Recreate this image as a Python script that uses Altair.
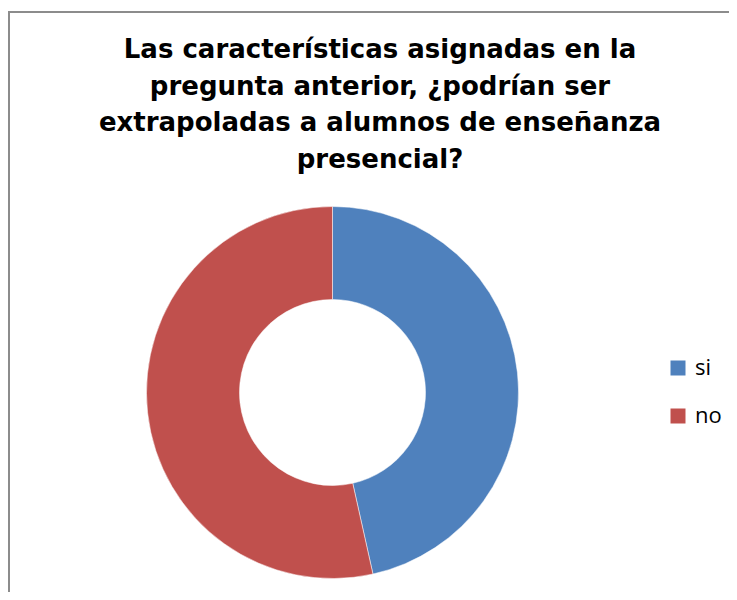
import altair as alt
import pandas as pd

categories = ["si", "no"]
values = [20, 23]
colors = ["#4F81BD", "#C0504D"]
title_lines = [
    "Las características asignadas en la",
    "pregunta anterior, ¿podrían ser",
    "extrapoladas a alumnos de enseñanza",
    "presencial?",
]

df = pd.DataFrame({"respuesta": categories, "valor": values, "orden": list(range(len(categories)))})

frame = alt.Chart(alt.Data(values=[{}]))
top_line = frame.mark_rule(stroke="#8c8c8c", strokeWidth=2).encode(
    x=alt.value(0), x2=alt.value(721), y=alt.value(4)
)
left_line = frame.mark_rule(stroke="#8c8c8c", strokeWidth=2).encode(
    x=alt.value(1), y=alt.value(3), y2=alt.value(584)
)

arcs = alt.Chart(df).mark_arc(
    outerRadius=186, innerRadius=93, stroke="white", strokeWidth=0.5
).encode(
    theta=alt.Theta("valor:Q", stack=True),
    order=alt.Order("orden:O"),
    color=alt.Color(
        "respuesta:N",
        scale=alt.Scale(domain=categories, range=colors),
        legend=alt.Legend(
            orient="none", legendX=659, legendY=349, title=None,
            symbolType="square", symbolSize=225, symbolStrokeWidth=0,
            labelFontSize=22, labelFont="Open Sans", labelColor="black",
            rowPadding=26, labelOffset=6, padding=0,
        ),
    ),
    x=alt.value(324.5),
    y=alt.value(384.5),
)

title = frame.mark_text(
    text=title_lines, align="center", baseline="alphabetic",
    font="DejaVu Sans", fontWeight="bold", fontSize=26, lineHeight=36.5, color="black"
).encode(x=alt.value(372), y=alt.value(50))

chart = alt.layer(top_line, left_line, arcs, title).properties(
    width=721, height=584, autosize=alt.AutoSizeParams(type="none"), padding=0
).configure_view(strokeWidth=0)

chart.save("out.html", embed_options={"renderer": "svg", "actions": False})
